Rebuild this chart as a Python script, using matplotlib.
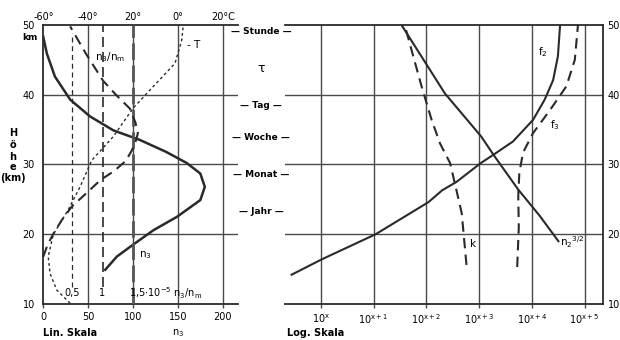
import matplotlib.pyplot as plt
import numpy as np

plt.rcParams['font.family'] = ['DejaVu Sans']
plt.rcParams['font.size'] = 7
plt.rcParams['mathtext.default'] = 'regular'

INK = '#2a2a2a'
GRID = '#4a4a4a'

# --- linkes Feld: n3 (lin. Skala), Temperatur, n3/nm ---
n3_h = [14.9, 16.8, 18.5, 20.6, 22.5, 24.9, 26.8, 28.7, 30.2, 31.8, 33.5,
        34.9, 36.9, 39.3, 42.6, 45.9, 48.3]
n3_val = [69, 82, 100, 123, 149, 175, 180, 175, 160, 137, 108, 78, 52, 30,
          13, 4, 0]

T_h = [10.1, 12, 14.4, 16.8, 20, 23.5, 26.8, 30.6, 34, 38.1, 41, 44.5,
       47.8, 50]
T_val = [-48, -54, -57, -57.8, -55.5, -48.9, -43.6, -38.4, -28.8, -19.9,
         -11.5, -1.3, 1.7, 2.4]

ratio_h = [16.8, 18.5, 20, 22, 24, 26, 27.8, 29, 30.5, 32, 33.5, 34.5, 36,
           38, 40, 42, 46, 49.8]
ratio_val = [0.03, 0.1, 0.19, 0.33, 0.5, 0.75, 0.97, 1.18, 1.38, 1.48, 1.55,
             1.58, 1.54, 1.45, 1.22, 1.01, 0.72, 0.47]
ratio_refs = [0.5, 1.0, 1.5]

n3_ticks = [0, 50, 100, 150, 200]
T_ticks = [-60, -40, -20, 0, 20]
T_labels = ['-60°', '-40°', '20°', '0°', '20°C']
h_ticks = [10, 20, 30, 40, 50]

# --- rechtes Feld: log. Skala (Dekaden relativ zu 10^x) ---
f2_h = [14.2, 16.4, 20, 24.6, 26.3, 27.5, 30.2, 31.4, 33.3, 36.4, 39.3,
        42.1, 45.5, 49.8]
f2_dec = [-0.55, 0.02, 1.04, 2.04, 2.3, 2.57, 3.03, 3.27, 3.64, 4.02, 4.24,
          4.40, 4.49, 4.53]

f3_h = [15.3, 21, 25.5, 28.8, 31.7, 34.5, 37.8, 41.2, 45, 50]
f3_dec = [3.72, 3.75, 3.74, 3.76, 3.83, 4.02, 4.34, 4.65, 4.81, 4.87]

k_h = [15.6, 19.7, 23, 26.3, 30.2, 33, 36.4, 41.2, 46.4, 50]
k_dec = [2.76, 2.71, 2.67, 2.57, 2.45, 2.26, 2.10, 1.91, 1.72, 1.59]

n2_h = [19, 22.6, 26.4, 31.4, 34, 40.2, 50]
n2_dec = [4.5, 4.15, 3.74, 3.27, 3.04, 2.35, 1.53]

log_ticks = [0, 1, 2, 3, 4, 5]
log_labels = [r'$10^{x}$', r'$10^{x+1}$', r'$10^{x+2}$', r'$10^{x+3}$',
              r'$10^{x+4}$', r'$10^{x+5}$']

tau_labels = ['— Stunde —', 'τ', '— Tag —', '— Woche —', '— Monat —',
              '— Jahr —']
tau_h = [49.0, 43.8, 38.4, 33.8, 28.5, 23.2]


fig = plt.figure(figsize=(6.2, 3.4), dpi=100)
fig.patch.set_facecolor('white')

# ---------- linkes Feld ----------
ax = fig.add_axes([0.0698, 0.1059, 0.3141, 0.8206])
n3_max = 217
ax.set_xlim(0, n3_max)
ax.set_ylim(10, 50)
for h in h_ticks[1:-1]:
    ax.axhline(h, color=GRID, lw=1.0, zorder=1)
for v in n3_ticks[1:]:
    ax.axvline(v, color=GRID, lw=1.0, zorder=1)
ax.plot(n3_val, n3_h, color=INK, lw=1.8, zorder=4)
ax.set_xticks(n3_ticks)
ax.set_xticklabels([str(v) for v in n3_ticks])
ax.set_yticks(h_ticks)
ax.set_yticklabels([str(v) for v in h_ticks])
ax.tick_params(axis='x', length=3, width=1.0, color=GRID, pad=3)
ax.tick_params(axis='y', length=0, pad=6)
ax.spines['right'].set_visible(False)
for s in ['left', 'top', 'bottom']:
    ax.spines[s].set_linewidth(1.3)
    ax.spines[s].set_color(INK)

# Temperatur-Achse oben
axT = ax.twiny()
axT.set_xlim(-60, -60 + 0.4 * n3_max)
axT.plot(T_val, T_h, color=INK, lw=1.0, dashes=(2, 2), zorder=4)
axT.set_xticks(T_ticks)
axT.set_xticklabels(T_labels)
axT.tick_params(axis='x', length=0, pad=2)
for s in axT.spines.values():
    s.set_visible(False)

# n3/nm-Achse (ohne Beschriftung, nur Bezugslinien)
axR = ax.twiny()
axR.set_xlim((0 + 2) / 68, (n3_max + 2) / 68)
axR.plot(ratio_val, ratio_h, color=INK, lw=1.5, dashes=(5, 3), zorder=4)
axR.axvline(ratio_refs[0], ymin=0.06, ymax=0.97, color=INK, lw=0.9,
            dashes=(4, 3))
axR.axvline(ratio_refs[1], ymin=0.06, ymax=1.0, color=INK, lw=1.2,
            dashes=(6, 3))
axR.axvline(ratio_refs[2], color='#555555', lw=2.0, dashes=(6, 2))
axR.set_xticks([])
for s in axR.spines.values():
    s.set_visible(False)

axR.text(ratio_refs[0], 11.6, '0,5', ha='center', va='center')
axR.text(ratio_refs[1], 11.6, '1', ha='center', va='center')
axR.text(ratio_refs[2] - 0.06, 11.6, r'1,5$\cdot$10$^{-5}$ n$_3$/n$_m$',
         ha='left', va='center')
ax.text(58, 45.4, r'n$_3$/n$_m$', ha='left', va='center', fontsize=7.5)
ax.text(107, 17.0, r'n$_3$', ha='left', va='center', fontsize=7.5)
ax.text(160, 47.1, '- T', ha='left', va='center', fontsize=7.5)

# ---------- rechtes Feld ----------
ax2 = fig.add_axes([0.4597, 0.1059, 0.5134, 0.8206])
ax2.set_xscale('log')
ax2.set_xlim(10 ** -0.675, 10 ** 5.35)
ax2.set_ylim(10, 50)
for h in h_ticks[1:-1]:
    ax2.axhline(h, color=GRID, lw=1.0, zorder=1)
for d in log_ticks:
    ax2.axvline(10.0 ** d, color=GRID, lw=1.0, zorder=1)
ax2.plot(10.0 ** np.array(f2_dec), f2_h, color=INK, lw=1.5, zorder=4)
ax2.plot(10.0 ** np.array(n2_dec), n2_h, color=INK, lw=1.5, zorder=4)
ax2.plot(10.0 ** np.array(f3_dec), f3_h, color=INK, lw=1.5, dashes=(5, 3),
         zorder=4)
ax2.plot(10.0 ** np.array(k_dec), k_h, color=INK, lw=1.5, dashes=(5, 3),
         zorder=4)
ax2.set_xticks([10.0 ** d for d in log_ticks])
ax2.set_xticklabels(log_labels)
ax2.minorticks_off()
ax2.yaxis.tick_right()
ax2.set_yticks(h_ticks)
ax2.set_yticklabels([str(v) for v in h_ticks])
ax2.tick_params(axis='x', length=3, width=1.0, color=GRID, pad=3)
ax2.tick_params(axis='y', length=0, pad=3)
ax2.spines['left'].set_visible(False)
for s in ['right', 'top', 'bottom']:
    ax2.spines[s].set_linewidth(1.3)
    ax2.spines[s].set_color(INK)

ax2.text(10 ** 4.21, 46.1, r'f$_2$', ha='center', va='center', fontsize=7.5)
ax2.text(10 ** 4.43, 35.7, r'f$_3$', ha='center', va='center', fontsize=7.5)
ax2.text(10 ** 2.88, 18.6, 'k', ha='center', va='center', fontsize=7.5)
ax2.text(10 ** 4.53, 18.9, r'n$_2$$^{3/2}$', ha='left', va='center',
         fontsize=7.5)

# ---------- Mittelspalte: Lebensdauer tau ----------
for lab, h in zip(tau_labels, tau_h):
    y = ax.transData.transform((0, h))[1]
    yf = fig.transFigure.inverted().transform((0, y))[1]
    fs = 9 if lab == 'τ' else 6.5
    fig.text(0.421, yf, lab, ha='center', va='center', fontsize=fs,
             fontweight='bold' if lab != 'τ' else 'normal')

# ---------- Achsentitel ----------
for ch, yp in zip(['H', 'ö', 'h', 'e', '(km)'], [133, 145, 157, 167, 178]):
    fig.text(13 / 620, 1 - yp / 340, ch, ha='center', va='center',
             fontsize=7, fontweight='bold')
fig.text(30 / 620, 1 - 38 / 340, 'km', ha='center', va='center',
         fontsize=6.5, fontweight='bold')
fig.text(43 / 620, 1 - 333 / 340, 'Lin. Skala', ha='left', va='center',
         fontsize=7, fontweight='bold')
fig.text(178 / 620, 1 - 333 / 340, r'n$_3$', ha='center', va='center',
         fontsize=7)
fig.text(287 / 620, 1 - 333 / 340, 'Log. Skala', ha='left', va='center',
         fontsize=7, fontweight='bold')

fig.savefig('out.png', dpi=100, facecolor='white')
